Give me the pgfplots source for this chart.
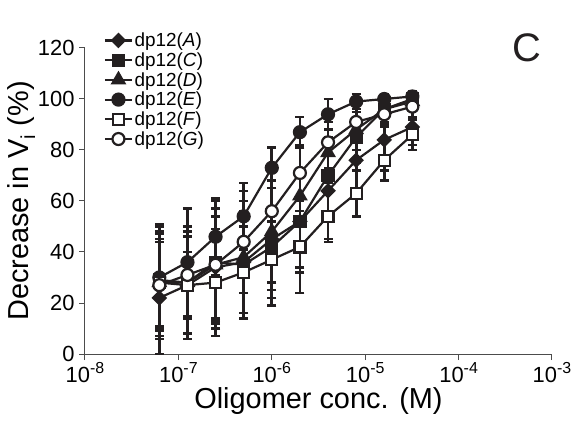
\documentclass[border=0pt]{standalone}
\usepackage{fontspec}
\setmainfont{Liberation Sans}
\usepackage{pgfplots}
\pgfplotsset{compat=1.18}
\usepackage{pgfplotstable}

\pgfplotstableread{
x y e
6.25e-8 22 22
1.25e-7 27 19
2.5e-7 34 20
5e-7 36 20
1e-6 45 20
2e-6 52 18
4e-6 64 19
8e-6 76 22
1.6e-5 84 12
3.2e-5 89 7
}\dataA
\pgfplotstableread{
x y e
6.25e-8 29 22
1.25e-7 28 20
2.5e-7 36 24
5e-7 35 21
1e-6 42 23
2e-6 52 20
4e-6 70 15
8e-6 85 10
1.6e-5 96 6
3.2e-5 100 3
}\dataC
\pgfplotstableread{
x y e
6.25e-8 28 19
1.25e-7 28 22
2.5e-7 35 25
5e-7 38 22
1e-6 48 20
2e-6 62 20
4e-6 79 12
8e-6 88 8
1.6e-5 96 5
3.2e-5 99 3
}\dataD
\pgfplotstableread{
x y e
6.25e-8 30 20
1.25e-7 36 21
2.5e-7 46 15
5e-7 54 13
1e-6 73 8
2e-6 87 6
4e-6 94 6
8e-6 99 3
1.6e-5 100 2
3.2e-5 101 2
}\dataE
\pgfplotstableread{
x y e
6.25e-8 28 17
1.25e-7 27 13
2.5e-7 28 21
5e-7 32 18
1e-6 37 15
2e-6 42 18
4e-6 54 10
8e-6 63 9
1.6e-5 76 8
3.2e-5 86 6
}\dataF
\pgfplotstableread{
x y e
6.25e-8 27 21
1.25e-7 31 17
2.5e-7 35 22
5e-7 44 20
1e-6 56 18
2e-6 71 15
4e-6 83 10
8e-6 91 8
1.6e-5 94 5
3.2e-5 97 4
}\dataG

\definecolor{ink}{HTML}{231F20}
\newcommand{\tenpow}[1]{10\raisebox{0.42em}{\fontsize{16}{16}\selectfont #1}}

\begin{document}
\begin{tikzpicture}
\path[use as bounding box] (-85bp,-67bp) rectangle (489bp,354bp);
\begin{axis}[
  scale only axis,
  width=467bp, height=306bp,
  xmode=log,
  xmin=1e-8, xmax=1e-3,
  ymin=0, ymax=120,
  axis x line*=bottom,
  axis y line*=left,
  axis line style={black!70, line width=1bp},
  tick style={black!70, line width=1bp},
  tick align=outside,
  major tick length=6bp,
  xminorticks=false,
  xtick={1e-8,1e-7,1e-6,1e-5,1e-4,1e-3},
  xticklabels={\tenpow{-8},\tenpow{-7},\tenpow{-6},\tenpow{-5},\tenpow{-4},\tenpow{-3}},
  ytick={0,20,...,120},
  /pgf/number format/assume math mode=true,
  ticklabel style={font=\fontsize{22}{24}\selectfont},
  yticklabel style={xshift=-1bp},
  xticklabel style={yshift=-1bp, inner ysep=1bp},
  xlabel={Oligomer conc. (M)},
  ylabel={Decrease in V\textsubscript{i} (\%)},
  label style={font=\fontsize{29}{32}\selectfont},
  xlabel style={yshift=-3bp, inner ysep=1bp},
  ylabel style={yshift=-4bp},
  clip=false,
  legend style={draw=none, fill=none, at={(0.04,1.055)}, anchor=north west,
    font=\fontsize{19}{21}\selectfont, row sep=1.5bp, inner sep=0pt,
    nodes={inner sep=1.5bp}},
  legend cell align=left,
  legend image code/.code={\draw[mark repeat=2,mark phase=2,#1] plot coordinates {(0bp,0bp)(13.5bp,0bp)(27bp,0bp)};},
  every axis plot/.append style={ink, line width=2.2bp,
    error bars/y dir=both, error bars/y explicit,
    error bars/error bar style={line width=2.8bp, ink},
    error bars/error mark options={line width=2.4bp, mark size=4.5bp, ink, rotate=90}},
]
\addplot[mark=square*, mark options={rotate=45, mark size=4.4bp, fill=ink, solid}] table[x=x,y=y,y error=e] {\dataA};
\addlegendentry{dp12(\textit{A})}
\addplot[mark=square*, mark options={mark size=5.5bp, fill=ink}] table[x=x,y=y,y error=e] {\dataC};
\addlegendentry{dp12(\textit{C})}
\addplot[mark=triangle*, mark options={mark size=7bp, fill=ink}] table[x=x,y=y,y error=e] {\dataD};
\addlegendentry{dp12(\textit{D})}
\addplot[mark=*, mark options={mark size=6bp, fill=ink}] table[x=x,y=y,y error=e] {\dataE};
\addlegendentry{dp12(\textit{E})}
\addplot[mark=square*, mark options={mark size=5.5bp, fill=white}] table[x=x,y=y,y error=e] {\dataF};
\addlegendentry{dp12(\textit{F})}
\addplot[mark=*, mark options={mark size=6bp, fill=white}] table[x=x,y=y,y error=e] {\dataG};
\addlegendentry{dp12(\textit{G})}
\node[font=\fontsize{40}{40}\selectfont, ink] at (rel axis cs:0.946,1.0) {C};
\end{axis}
\end{tikzpicture}
\end{document}
